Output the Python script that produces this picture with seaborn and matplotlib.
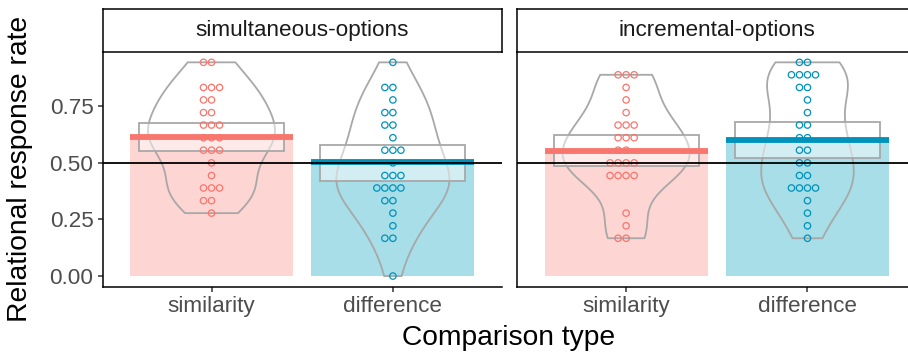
import numpy as np
import pandas as pd
import matplotlib
matplotlib.use("Agg")
import matplotlib.pyplot as plt
import seaborn as sns
from matplotlib.patches import Rectangle

# ---- data -------------------------------------------------------------
options = ["simultaneous-options", "incremental-options"]
comparisons = ["similarity", "difference"]

# per-participant relational response rates
simultaneous_similarity = [0.944, 0.944, 0.833, 0.833, 0.833, 0.778, 0.778,
                           0.722, 0.722, 0.667, 0.667, 0.667, 0.611, 0.611,
                           0.611, 0.556, 0.556, 0.556, 0.500, 0.444, 0.389,
                           0.389, 0.389, 0.333, 0.333, 0.278]
simultaneous_difference = [0.944, 0.833, 0.833, 0.778, 0.722, 0.722, 0.667,
                           0.667, 0.611, 0.556, 0.556, 0.556, 0.500, 0.444,
                           0.444, 0.444, 0.389, 0.389, 0.389, 0.389, 0.333,
                           0.333, 0.278, 0.222, 0.167, 0.167, 0.000]
incremental_similarity = [0.889, 0.889, 0.889, 0.833, 0.778, 0.722, 0.667,
                          0.667, 0.667, 0.611, 0.611, 0.611, 0.556, 0.556,
                          0.500, 0.500, 0.500, 0.500, 0.444, 0.444, 0.444,
                          0.444, 0.278, 0.222, 0.167, 0.167]
incremental_difference = [0.944, 0.944, 0.889, 0.889, 0.889, 0.889, 0.833,
                          0.833, 0.778, 0.722, 0.667, 0.667, 0.611, 0.611,
                          0.556, 0.556, 0.500, 0.500, 0.444, 0.444, 0.389,
                          0.389, 0.389, 0.389, 0.333, 0.278, 0.222, 0.167]

# group means and interval bounds, rows follow `options`, columns `comparisons`
mean_rate = [[0.613, 0.503], [0.554, 0.600]]
ci_low = [[0.551, 0.419], [0.485, 0.522]]
ci_high = [[0.677, 0.578], [0.621, 0.679]]

y_ticks = [0.00, 0.25, 0.50, 0.75]
y_tick_labels = ["0.00", "0.25", "0.50", "0.75"]

# ---- styling ----------------------------------------------------------
line_colors = {"similarity": "#F8766D", "difference": "#0092BB"}
bar_colors = {"similarity": "#FDD5D2", "difference": "#A7DEE8"}
outline_gray = "#A8A8A8"

sns.set_theme(style="white")
plt.rcParams["font.family"] = ["Liberation Sans", "DejaVu Sans"]

W, H = 908, 353
fig = plt.figure(figsize=(W / 100, H / 100), dpi=100)
fig.patch.set_facecolor("white")


def px_axes(left, top, right, bottom):
    return fig.add_axes([left / W, 1 - bottom / H,
                         (right - left) / W, (bottom - top) / H])


panel_x = [(102.7, 501.7), (517.3, 916.3)]
panel_top, panel_bottom = 51.7, 286.7
strip_top = 9.3

records = []
series = {
    ("simultaneous-options", "similarity"): simultaneous_similarity,
    ("simultaneous-options", "difference"): simultaneous_difference,
    ("incremental-options", "similarity"): incremental_similarity,
    ("incremental-options", "difference"): incremental_difference,
}
for (opt, comp), vals in series.items():
    for v in vals:
        records.append({"option": opt, "comparison": comp, "rate": v})
df = pd.DataFrame(records)

for j, opt in enumerate(options):
    x0, x1 = panel_x[j]
    ax = px_axes(x0, panel_top, x1, panel_bottom)
    sub = df[df["option"] == opt]

    # mean bars
    sns.barplot(x=comparisons, y=mean_rate[j], hue=comparisons,
                order=comparisons, hue_order=comparisons, palette=bar_colors,
                saturation=1, width=0.9, errorbar=None, legend=False, ax=ax)
    for p in ax.patches:
        p.set_zorder(1)
        p.set_linewidth(0)

    # violins
    n_coll, n_lines, n_pat = len(ax.collections), len(ax.lines), len(ax.patches)
    sns.violinplot(data=sub, x="comparison", y="rate", order=comparisons,
                   cut=0, inner=None, fill=False, color=outline_gray,
                   linecolor=outline_gray, linewidth=1.3, density_norm="area",
                   width=0.7, bw_adjust=0.9, ax=ax)
    for art in (ax.collections[n_coll:] + ax.lines[n_lines:]
                + ax.patches[n_pat:]):
        art.set_zorder(2)

    # interval boxes
    for i, comp in enumerate(comparisons):
        ax.add_patch(Rectangle((i - 0.4, ci_low[j][i]), 0.8,
                               ci_high[j][i] - ci_low[j][i],
                               facecolor=(1, 1, 1, 0.5),
                               edgecolor=outline_gray, linewidth=1.3,
                               zorder=3))

    # individual participants
    n_coll = len(ax.collections)
    sns.swarmplot(data=sub, x="comparison", y="rate", hue="comparison",
                  order=comparisons, hue_order=comparisons,
                  palette=line_colors, size=4.6, linewidth=0.9,
                  legend=False, ax=ax)
    for coll in ax.collections[n_coll:]:
        fc = coll.get_facecolors()
        coll.set_edgecolors(fc)
        coll.set_facecolors("none")
        coll.set_zorder(4)

    # mean lines and chance reference
    pos = np.arange(len(comparisons))
    ax.hlines(mean_rate[j], pos - 0.45, pos + 0.45,
              colors=[line_colors[c] for c in comparisons],
              linewidth=4.2, zorder=5)
    ax.axhline(0.5, color="black", linewidth=1.3, zorder=6)

    ax.set_xlim(-0.6, 1.6)
    ax.set_ylim(-0.047, 0.991)
    ax.set_xlabel("")
    ax.set_ylabel("")
    ax.set_xticks(pos)
    ax.set_xticklabels(comparisons)
    for side in ("top", "right"):
        ax.spines[side].set_visible(False)
    for side in ("left", "bottom"):
        ax.spines[side].set_color("black")
        ax.spines[side].set_linewidth(1.1)
    ax.tick_params(axis="x", length=3.6, width=1.1, color="#333333",
                   labelsize=16.2, labelcolor="#4D4D4D", pad=3, bottom=True)
    if j == 0:
        ax.set_yticks(y_ticks)
        ax.set_yticklabels(y_tick_labels)
        ax.tick_params(axis="y", length=3.6, width=1.1, color="#333333",
                       labelsize=16.2, labelcolor="#4D4D4D", pad=3, left=True)
    else:
        ax.set_yticks([])

    # facet strip
    sax = px_axes(x0, strip_top, x1, panel_top)
    sax.set_xticks([])
    sax.set_yticks([])
    sax.set_facecolor("white")
    for side in sax.spines.values():
        side.set_color("black")
        side.set_linewidth(1.1)
    sax.text(0.5, 0.5, opt, ha="center", va="center", fontsize=16.2,
             color="#1A1A1A", transform=sax.transAxes)

fig.text(509 / W, 1 - 345 / H, "Comparison type", ha="center",
         va="baseline", fontsize=20.3, color="black")
fig.text(20 / W, 1 - 169 / H, "Relational response rate", ha="center",
         va="center", rotation=90, fontsize=20.3, color="black")

fig.savefig("out.png", dpi=100)
